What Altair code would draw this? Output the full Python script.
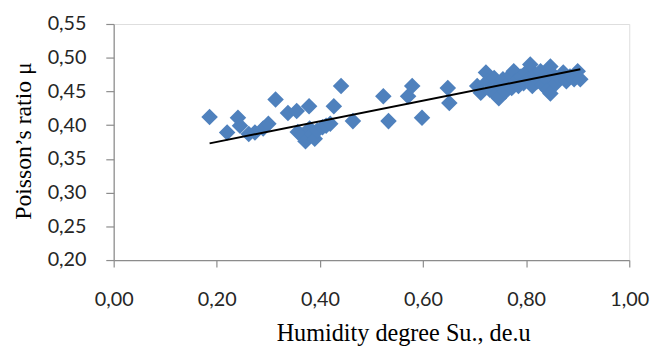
import altair as alt
import pandas as pd

# Humidity degree Su (x) and Poisson's ratio (y)
su = [0.186, 0.220, 0.241, 0.245, 0.262, 0.274, 0.290, 0.300, 0.314, 0.338,
      0.355, 0.357, 0.365, 0.372, 0.379, 0.380, 0.385, 0.390, 0.395, 0.405,
      0.412, 0.420, 0.427, 0.441, 0.464, 0.523, 0.533, 0.571, 0.579, 0.598,
      0.648, 0.651,
      0.705, 0.712, 0.722, 0.725, 0.730, 0.738, 0.742, 0.747, 0.750, 0.755,
      0.760, 0.765, 0.770, 0.772, 0.776, 0.780, 0.785, 0.790, 0.795, 0.800,
      0.805, 0.808, 0.812, 0.818, 0.822, 0.828, 0.832, 0.838, 0.842, 0.847,
      0.847, 0.852, 0.858, 0.865, 0.872, 0.878, 0.885, 0.893, 0.900, 0.905]
mu = [0.412, 0.389, 0.411, 0.399, 0.387, 0.389, 0.395, 0.402, 0.438, 0.418,
      0.421, 0.390, 0.385, 0.376, 0.428, 0.395, 0.387, 0.380, 0.392, 0.397,
      0.399, 0.402, 0.428, 0.458, 0.406, 0.443, 0.406, 0.443, 0.458, 0.411,
      0.455, 0.433,
      0.458, 0.448, 0.478, 0.465, 0.452, 0.470, 0.445, 0.440, 0.458, 0.468,
      0.450, 0.462, 0.474, 0.455, 0.480, 0.465, 0.458, 0.472, 0.462, 0.478,
      0.468, 0.490, 0.458, 0.475, 0.465, 0.480, 0.460, 0.470, 0.452, 0.487,
      0.447, 0.475, 0.462, 0.470, 0.478, 0.465, 0.472, 0.468, 0.480, 0.468]

# Linear trendline end points
trend_su = [0.186, 0.905]
trend_mu = [0.373, 0.483]

x_ticks = [0.0, 0.2, 0.4, 0.6, 0.8, 1.0]
y_ticks = [0.20, 0.25, 0.30, 0.35, 0.40, 0.45, 0.50, 0.55]

df = pd.concat([
    pd.DataFrame({"su": su, "mu": mu, "kind": "point"}),
    pd.DataFrame({"su": trend_su, "mu": trend_mu, "kind": "trend"}),
], ignore_index=True)

label_expr = "replace(format(datum.value, '.2f'), '.', ',')"
LABEL_FONT = "Lato"
TITLE_FONT = "Liberation Serif"
GREY = "#8c8c8c"
LABEL_COLOR = "#262626"

x_enc = alt.X(
    "su:Q",
    scale=alt.Scale(domain=[0, 1], nice=False, zero=False),
    axis=alt.Axis(
        values=x_ticks, labelExpr=label_expr, grid=False,
        title="Humidity degree Su., de.u",
        titleFont=TITLE_FONT, titleFontSize=24.5, titleFontWeight="normal",
        titleColor="#000000", titleX=293, titleY=81, titleAlign="center",
        titleBaseline="alphabetic", titleAnchor="start",
        labelFont=LABEL_FONT, labelFontSize=20, labelColor=LABEL_COLOR,
        labelPadding=23, labelFlush=False, labelOverlap=False,
        domainColor=GREY, tickColor=GREY, tickSize=7, domainWidth=1.2, tickWidth=1.2,
    ),
)
y_enc = alt.Y(
    "mu:Q",
    scale=alt.Scale(domain=[0.20, 0.55], nice=False, zero=False),
    axis=alt.Axis(
        values=y_ticks, tickCount=8, labelExpr=label_expr, grid=False,
        title="Poisson’s ratio μ",
        titleFont=TITLE_FONT, titleFontSize=24, titleFontWeight="normal",
        titleColor="#000000", titleX=-84, titleY=118, titleAlign="center",
        titleBaseline="alphabetic", titleAngle=270, titleAnchor="start",
        labelFont=LABEL_FONT, labelFontSize=20, labelColor=LABEL_COLOR,
        labelPadding=20, labelOverlap=False, labelFlush=False,
        domainColor=GREY, tickColor=GREY, tickSize=8, domainWidth=1.2, tickWidth=1.2,
    ),
)

base = alt.Chart(df).encode(x=x_enc, y=y_enc)

points = base.transform_filter(alt.datum.kind == "point").mark_point(
    shape="diamond", filled=True, size=280, color="#4F81BD", opacity=1
)

trend = base.transform_filter(alt.datum.kind == "trend").mark_line(
    color="#000000", strokeWidth=2
)

chart = alt.layer(points, trend).properties(
    width=522, height=239,
    autosize=alt.AutoSizeParams(type="none"),
    padding={"left": 107, "top": 14, "right": 22, "bottom": 100},
).configure_view(stroke=None).configure(background="#ffffff")

chart.save("out.html", embed_options={"renderer": "svg", "actions": False})
